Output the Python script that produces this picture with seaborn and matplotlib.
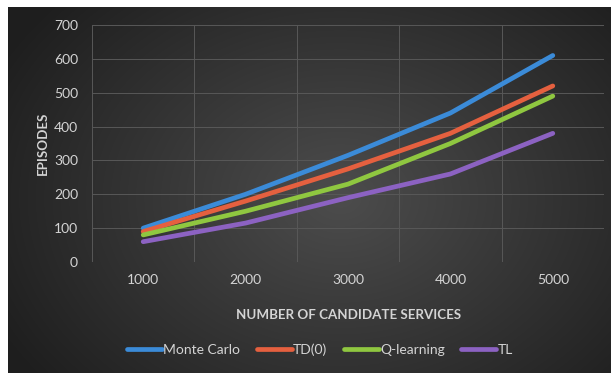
import numpy as np
import pandas as pd
import matplotlib
matplotlib.use("Agg")
import matplotlib.pyplot as plt
import seaborn as sns
from matplotlib.ticker import FixedLocator

# Data
services = [1000, 2000, 3000, 4000, 5000]
monte_carlo = [100, 200, 315, 440, 610]
td0 = [90, 180, 275, 380, 520]
q_learning = [80, 150, 230, 350, 490]
tl = [60, 115, 190, 260, 380]
methods = ["Monte Carlo", "TD(0)", "Q-learning", "TL"]
colors = ["#3b8bd8", "#e5603f", "#8fc740", "#8c62c2"]

df = pd.DataFrame({
    "services": services * 4,
    "episodes": monte_carlo + td0 + q_learning + tl,
    "method": sum([[m] * len(services) for m in methods], []),
})

sns.set_theme(style="dark")
plt.rcParams["font.family"] = ["Lato", "DejaVu Sans"]

W, H = 611, 373
fig = plt.figure(figsize=(W / 100, H / 100), dpi=100, facecolor="white")

# Dark chart-area backdrop with a soft radial light in the middle
bg = fig.add_axes([8 / W, 0, 1 - 8 / W, 1 - 7 / H])
bg.set_axis_off()
ny, nx = 200, 330
yy, xx = np.mgrid[0:ny, 0:nx]
cx, cy = nx * 0.55, ny * 0.52
r = np.sqrt(((xx - cx) / (nx * 0.6)) ** 2 + ((yy - cy) / (ny * 0.75)) ** 2)
shade = np.clip(0.30 - 0.17 * r, 0.12, 0.30)
img = np.dstack([shade, shade, shade])
bg.imshow(img, aspect="auto", interpolation="bicubic", extent=[0, 1, 0, 1])
bg.set_xlim(0, 1)
bg.set_ylim(0, 1)

ax = fig.add_axes([92 / W, 1 - 262 / H, (604 - 92) / W, (262 - 25) / H])
ax.patch.set_alpha(0)

sns.lineplot(
    data=df, x="services", y="episodes", hue="method",
    palette=colors, hue_order=methods, linewidth=3.4, ax=ax,
    legend=False, solid_capstyle="round",
)

text_col = "#d4d4d4"
ax.set_xlim(500, 5500)
ax.set_ylim(0, 700)
ax.set_xticks(services)
ax.set_xticklabels([str(s) for s in services])
ax.set_yticks(range(0, 701, 100))
ax.xaxis.set_minor_locator(FixedLocator([500, 1500, 2500, 3500, 4500, 5500]))
ax.grid(False)
ax.grid(True, which="minor", axis="x", color="#585858", linewidth=0.7)
ax.grid(True, which="major", axis="y", color="#585858", linewidth=0.7)
ax.set_axisbelow(True)
for s in ax.spines.values():
    s.set_visible(False)
ax.tick_params(which="both", length=0, colors=text_col, labelsize=10)
ax.tick_params(axis="x", pad=9)
ax.tick_params(axis="y", pad=10)

ax.set_xlabel("NUMBER OF CANDIDATE SERVICES", color=text_col,
              fontsize=9.6, fontweight="bold")
ax.set_ylabel("EPISODES", color=text_col, fontsize=9.6, fontweight="bold")
ax.xaxis.set_label_coords(0.502, -0.224)
ax.yaxis.set_label_coords(-0.096, 0.50)
ax.xaxis.label.set_va("center")
ax.yaxis.label.set_va("center")

handles = [plt.Line2D([0], [0], color=c, lw=3.4) for c in colors]
fig.legend(handles, methods, loc="center", bbox_to_anchor=(320 / W, 1 - 350 / H),
           ncol=4, frameon=False, fontsize=10, labelcolor=text_col,
           handlelength=2.5, handletextpad=0.1, columnspacing=1.2)

fig.savefig("out.png", dpi=100, facecolor="white")
